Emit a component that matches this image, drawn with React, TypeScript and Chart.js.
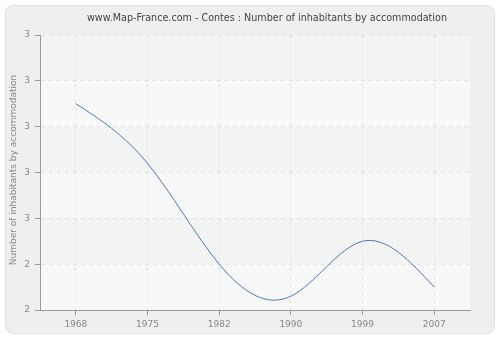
import React, { useEffect, useRef } from "react";
import { Chart, registerables } from "chart.js";
Chart.register(...registerables);

const years = ["1968", "1975", "1982", "1990", "1999", "2007"];
const values = [2.75, 2.62, 2.4, 2.33, 2.45, 2.35];
const yMin = 2.3;
const yMax = 2.9;
const yStep = 0.1;
const titleText = "www.Map-France.com - Contes : Number of inhabitants by accommodation";
const yTitleText = "Number of inhabitants by accommodation";

const FONT = "'DejaVu Sans', Verdana, sans-serif";
const LINE_COLOR = "#5079b3";

// natural cubic spline through element positions, drawn as bezier segments
function drawNaturalSpline(ctx: CanvasRenderingContext2D, pts: { x: number; y: number }[]) {
  const n = pts.length;
  if (n < 2) return;
  const h: number[] = [];
  for (let i = 0; i < n - 1; i++) h.push(pts[i + 1].x - pts[i].x);
  // solve for second derivatives M (natural: M0 = Mn-1 = 0)
  const M = new Array(n).fill(0);
  if (n > 2) {
    const a: number[] = [], b: number[] = [], c: number[] = [], d: number[] = [];
    for (let i = 1; i < n - 1; i++) {
      a.push(h[i - 1]);
      b.push(2 * (h[i - 1] + h[i]));
      c.push(h[i]);
      d.push(6 * ((pts[i + 1].y - pts[i].y) / h[i] - (pts[i].y - pts[i - 1].y) / h[i - 1]));
    }
    const m = b.length;
    for (let i = 1; i < m; i++) {
      const w = a[i] / b[i - 1];
      b[i] -= w * c[i - 1];
      d[i] -= w * d[i - 1];
    }
    const sol = new Array(m).fill(0);
    sol[m - 1] = d[m - 1] / b[m - 1];
    for (let i = m - 2; i >= 0; i--) sol[i] = (d[i] - c[i] * sol[i + 1]) / b[i];
    for (let i = 0; i < m; i++) M[i + 1] = sol[i];
  }
  ctx.beginPath();
  ctx.moveTo(pts[0].x, pts[0].y);
  for (let i = 0; i < n - 1; i++) {
    const hi = h[i];
    const s = (pts[i + 1].y - pts[i].y) / hi;
    const m0 = s - (hi * (2 * M[i] + M[i + 1])) / 6;
    const m1 = s + (hi * (M[i] + 2 * M[i + 1])) / 6;
    ctx.bezierCurveTo(
      pts[i].x + hi / 3,
      pts[i].y + (m0 * hi) / 3,
      pts[i + 1].x - hi / 3,
      pts[i + 1].y - (m1 * hi) / 3,
      pts[i + 1].x,
      pts[i + 1].y
    );
  }
  ctx.stroke();
}

const bgPlugin = {
  id: "bgPlugin",
  beforeDraw(chart: any) {
    const { ctx, chartArea } = chart;
    const { left, top, right, bottom } = chartArea;
    const y = chart.scales.y;
    ctx.save();
    ctx.fillStyle = "#f9f9f9";
    ctx.fillRect(left, top, right - left, bottom - top);
    const ticks = y.ticks;
    for (let i = 0; i < ticks.length - 1; i++) {
      const y1 = y.getPixelForValue(ticks[i].value);
      const y2 = y.getPixelForValue(ticks[i + 1].value);
      const bt = Math.min(y1, y2);
      const bb = Math.max(y1, y2);
      const hatched = i % 2 === 1;
      ctx.save();
      ctx.beginPath();
      ctx.rect(left, bt, right - left, bb - bt);
      ctx.clip();
      ctx.fillStyle = hatched ? "#f7f7f7" : "#fafafa";
      ctx.fillRect(left, bt, right - left, bb - bt);
      ctx.strokeStyle = hatched ? "#e9e9e9" : "#f1f1f1";
      ctx.lineWidth = 1;
      ctx.beginPath();
      const hh = bb - bt;
      for (let d = -hh - 10; d < right - left + 10; d += 4) {
        ctx.moveTo(left + d, bb);
        ctx.lineTo(left + d + hh, bt);
      }
      ctx.stroke();
      ctx.restore();
    }
    ctx.restore();
  },
  afterDatasetsDraw(chart: any) {
    const { ctx, chartArea } = chart;
    const meta = chart.getDatasetMeta(0);
    const pts = meta.data.map((p: any) => ({ x: p.x, y: p.y }));
    ctx.save();
    ctx.beginPath();
    ctx.rect(chartArea.left, chartArea.top, chartArea.right - chartArea.left, chartArea.bottom - chartArea.top);
    ctx.clip();
    ctx.strokeStyle = LINE_COLOR;
    ctx.lineWidth = 1;
    ctx.lineJoin = "round";
    drawNaturalSpline(ctx, pts);
    ctx.restore();
  },
  afterDraw(chart: any) {
    const { ctx } = chart;
    ctx.save();
    ctx.fillStyle = "#444";
    ctx.font = `9.6px ${FONT}`;
    ctx.textAlign = "center";
    ctx.textBaseline = "middle";
    ctx.fillText(titleText, 267, 18);
    ctx.translate(13.5, 170);
    ctx.rotate(-Math.PI / 2);
    ctx.fillStyle = "#888";
    ctx.font = `9px ${FONT}`;
    ctx.fillText(yTitleText, 0, 0);
    ctx.restore();
  },
};

export default function App() {
  const ref = useRef<HTMLCanvasElement | null>(null);
  useEffect(() => {
    if (!ref.current) return;
    const chart = new Chart(ref.current, {
      type: "line",
      data: {
        labels: years,
        datasets: [
          {
            data: values,
            borderColor: LINE_COLOR,
            borderWidth: 1,
            pointRadius: 0,
            showLine: false,
            fill: false,
          },
        ],
      },
      options: {
        animation: false,
        responsive: false,
        devicePixelRatio: 1,
        layout: { padding: { top: 35, right: 30, left: 0, bottom: 0 } },
        plugins: { legend: { display: false }, tooltip: { enabled: false }, title: { display: false } },
        scales: {
          x: {
            type: "category",
            offset: true,
            grid: {
              offset: false,
              color: "#e2e2e2",
              tickColor: "#999",
              tickLength: 5,
              lineWidth: 1,
            },
            border: { color: "#999", dash: [4, 4] },
            ticks: { color: "#888", font: { family: FONT, size: 9 }, padding: 4, maxRotation: 0 },
            afterFit: (s: any) => {
              s.height = 30;
            },
          },
          y: {
            min: yMin,
            max: yMax,
            grid: {
              color: "#e2e2e2",
              tickColor: "#999",
              tickLength: 5,
              lineWidth: 1,
            },
            border: { color: "#999", dash: [4, 4] },
            ticks: {
              stepSize: yStep,
              color: "#888",
              font: { family: FONT, size: 9 },
              padding: 5,
              callback: (v: any) => String(Math.round(Number(v))),
            },
            afterFit: (s: any) => {
              s.width = 40;
            },
          },
        },
      },
      plugins: [bgPlugin],
    });
    return () => chart.destroy();
  }, []);
  return (
    <div style={{ position: "fixed", left: 0, top: 0, width: 500, height: 340, background: "#fff" }}>
      <div
        style={{
          position: "absolute",
          left: 5,
          top: 5,
          width: 490,
          height: 329,
          boxSizing: "border-box",
          background: "#efefef",
          border: "1px solid #e2e2e2",
          borderRadius: 8,
        }}
      />
      <canvas ref={ref} width={500} height={340} style={{ position: "absolute", left: 0, top: 0, display: "block" }} />
    </div>
  );
}
